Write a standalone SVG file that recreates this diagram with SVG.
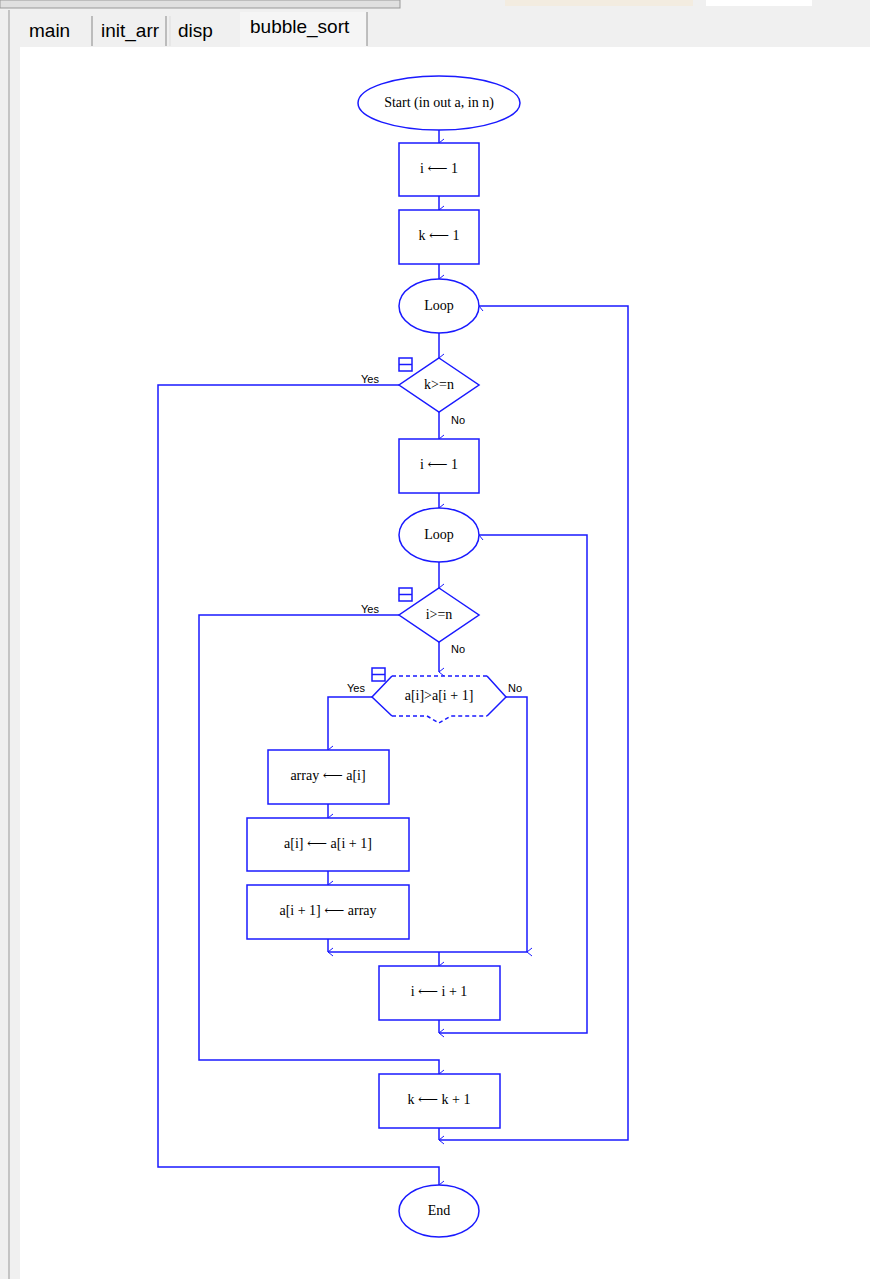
<svg xmlns="http://www.w3.org/2000/svg" width="870" height="1279" viewBox="0 0 870 1279">
<style>
.s{fill:none;stroke:#1a1aff;stroke-width:1.5}
.n{fill:#fff;stroke:#1a1aff;stroke-width:1.5}
.t{font-family:"Liberation Serif","DejaVu Serif",serif;font-size:14px;fill:#000;text-anchor:middle;dominant-baseline:middle}
.l{font-family:"Liberation Sans",sans-serif;font-size:11px;fill:#000}
.tab{font-family:"Liberation Sans",sans-serif;font-size:19px;fill:#000}
.ic{fill:#fff;stroke:#1a1aff;stroke-width:1.5}
</style>
<defs>
<marker id="a" markerWidth="10" markerHeight="10" refX="5" refY="8" orient="auto" markerUnits="userSpaceOnUse"><path d="M1,3 L5,8 L9,3" fill="none" stroke="#1a1aff" stroke-width="1"/></marker>
</defs>
<rect width="870" height="1279" fill="#f0f0f0"/>
<rect x="0" y="0" width="400" height="8" fill="#e0e0e0" stroke="#999"/>
<rect x="505" y="0" width="188" height="6" fill="#f3ece0"/>
<rect x="706" y="0" width="106" height="6" fill="#fff"/>
<line x1="9" y1="10" x2="9" y2="1279" stroke="#999"/>
<rect x="20" y="47" width="850" height="1232" fill="#fff"/>
<g id="tabs">
<rect x="18" y="16" width="75" height="31" fill="#f0f0f0"/><line x1="92" y1="16" x2="92" y2="46" stroke="#888"/>
<text class="tab" x="29" y="37">main</text>
<line x1="166" y1="16" x2="166" y2="46" stroke="#888"/>
<text class="tab" x="101" y="37">init_arr</text>
<line x1="170" y1="16" x2="170" y2="46" stroke="#ddd"/>
<text class="tab" x="178" y="37">disp</text>
<rect x="240" y="12" width="127" height="35" fill="#f5f5f5"/><line x1="367" y1="12" x2="367" y2="46" stroke="#888"/>
<text class="tab" x="250" y="33">bubble_sort</text>
</g>
<g id="connectors">
<path class="s" d="M439,130 V143" marker-end="url(#a)"/>
<path class="s" d="M439,196 V210" marker-end="url(#a)"/>
<path class="s" d="M439,264 V279" marker-end="url(#a)"/>
<path class="s" d="M439,333 V358" marker-end="url(#a)"/>
<path class="s" d="M439,412 V439" marker-end="url(#a)"/>
<path class="s" d="M399,385 H158 V1167 H439 V1185" marker-end="url(#a)"/>
<path class="s" d="M439,493 V508" marker-end="url(#a)"/>
<path class="s" d="M439,562 V588" marker-end="url(#a)"/>
<path class="s" d="M399,615 H199 V1060 H439 V1074" marker-end="url(#a)"/>
<path class="s" d="M439,642 V672" marker-end="url(#a)"/>
<path class="s" d="M372,697 H328 V750" marker-end="url(#a)"/>
<path class="s" d="M328,804 V818" marker-end="url(#a)"/>
<path class="s" d="M328,871 V885" marker-end="url(#a)"/>
<path class="s" d="M328,939 V952" marker-end="url(#a)"/>
<path class="s" d="M506,697 H527 V952" marker-end="url(#a)"/>
<path class="s" d="M328,952 H527"/>
<path class="s" d="M439,952 V966" marker-end="url(#a)"/>
<path class="s" d="M439,1020 V1033" marker-end="url(#a)"/>
<path class="s" d="M439,1033 H587 V535 H479" marker-end="url(#a)"/>
<path class="s" d="M439,1128 V1140" marker-end="url(#a)"/>
<path class="s" d="M439,1140 H628 V306 H479" marker-end="url(#a)"/>
<text class="l" x="361" y="383">Yes</text><text class="l" x="451" y="424">No</text>
<text class="l" x="361" y="613">Yes</text><text class="l" x="451" y="653">No</text>
<text class="l" x="347" y="692">Yes</text><text class="l" x="508" y="692">No</text>
</g>
<g id="start"><ellipse class="n" cx="439" cy="103" rx="81" ry="27"/><text class="t" x="439" y="104">Start (in out a, in n)</text></g>
<g id="i1"><rect class="n" x="399" y="143" width="80" height="53"/><text class="t" x="439" y="170">i ⟵ 1</text></g>
<g id="k1"><rect class="n" x="399" y="210" width="80" height="54"/><text class="t" x="439" y="237">k ⟵ 1</text></g>
<g id="loop1"><ellipse class="n" cx="439" cy="306" rx="40" ry="27"/><text class="t" x="439" y="307">Loop</text></g>
<g id="d1"><path class="n" d="M439,358 L479,385 L439,412 L399,385 Z"/><text class="t" x="439" y="386">k&gt;=n</text>
<rect class="ic" x="399" y="358" width="13" height="13"/><line class="ic" x1="399" y1="364.5" x2="412" y2="364.5"/></g>
<g id="i2"><rect class="n" x="399" y="439" width="80" height="54"/><text class="t" x="439" y="466">i ⟵ 1</text></g>
<g id="loop2"><ellipse class="n" cx="439" cy="535" rx="40" ry="27"/><text class="t" x="439" y="536">Loop</text></g>
<g id="d2"><path class="n" d="M439,588 L479,615 L439,642 L399,615 Z"/><text class="t" x="439" y="616">i&gt;=n</text>
<rect class="ic" x="399" y="588" width="13" height="13"/><line class="ic" x1="399" y1="594.5" x2="412" y2="594.5"/></g>
<g id="d3"><path d="M392,676 H487 L506,697 L487,716 H392 L372,697 Z" fill="#fff" stroke="none"/>
<path class="s" d="M487,676 L506,697 L487,716 M392,676 L372,697 L392,716"/>
<path class="s" stroke-dasharray="4,3" d="M392,676 H487 M392,716 H427 L439,723 L451,716 H487"/>
<text class="t" x="439" y="697">a[i]&gt;a[i + 1]</text>
<rect class="ic" x="372" y="668" width="13" height="13"/><line class="ic" x1="372" y1="674.5" x2="385" y2="674.5"/></g>
<g id="swap1"><rect class="n" x="268" y="750" width="121" height="54"/><text class="t" x="328" y="777">array ⟵ a[i]</text></g>
<g id="swap2"><rect class="n" x="247" y="818" width="162" height="53"/><text class="t" x="328" y="845">a[i] ⟵ a[i + 1]</text></g>
<g id="swap3"><rect class="n" x="247" y="885" width="162" height="54"/><text class="t" x="328" y="912">a[i + 1] ⟵ array</text></g>
<g id="inc_i"><rect class="n" x="379" y="966" width="121" height="54"/><text class="t" x="439" y="993">i ⟵ i + 1</text></g>
<g id="inc_k"><rect class="n" x="379" y="1074" width="121" height="54"/><text class="t" x="439" y="1101">k ⟵ k + 1</text></g>
<g id="end"><ellipse class="n" cx="439" cy="1211" rx="40" ry="26"/><text class="t" x="439" y="1212">End</text></g>
</svg>
